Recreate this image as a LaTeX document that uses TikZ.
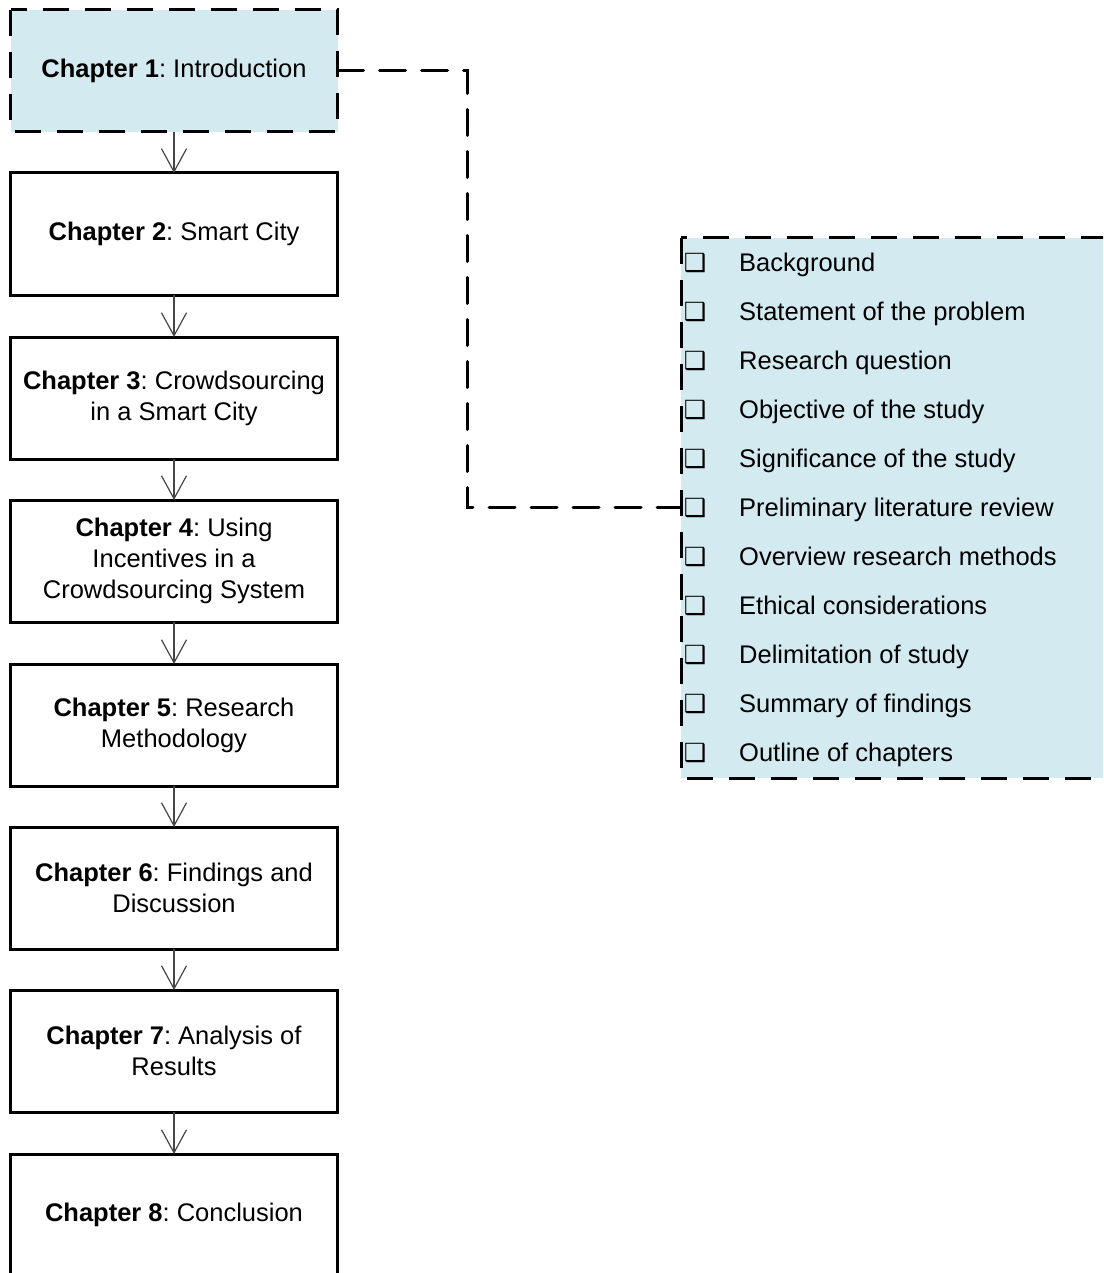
\documentclass[tikz,border=0pt]{standalone}
\usepackage{fontspec}
\setmainfont{Liberation Sans}
\newfontfamily\symfont{DejaVu Sans}
\usetikzlibrary{arrows.meta}
\definecolor{panelblue}{RGB}{210,234,240}
\definecolor{flowgray}{RGB}{70,70,70}
\tikzset{
  chapbox/.style={draw=black, line width=3pt, minimum width=327pt, minimum height=122pt,
    outer sep=0pt, inner sep=2pt, align=center, font=\fontsize{25.5}{31}\selectfont\frenchspacing},
  dashpat/.style={line width=3pt, dash pattern=on 26pt off 16pt},
  firstbox/.style={chapbox, fill=panelblue, draw=none},
  flow/.style={draw=flowgray, line width=1.4pt,
    -{Straight Barb[length=23pt, width=25pt, line width=1.2pt]}},
  listbox/.style={fill=panelblue, minimum width=429pt, minimum height=540pt, outer sep=0pt, inner sep=0pt},
  item/.style={anchor=base west, inner sep=0pt, font=\fontsize{25.5}{31}\selectfont},
  tick/.style={anchor=base, inner sep=0pt, font=\symfont\fontsize{25}{25}\selectfont},
  link/.style={draw=black, dashpat, line cap=round}
}
\begin{document}
\begin{tikzpicture}[x=1pt, y=-1pt]
\useasboundingbox (0,0) rectangle (1103,1273);
\clip (0,0) rectangle (1103,1273);

% chapter column
\node[firstbox] (c1) at (174,71) {\textbf{Chapter 1}: Introduction};
\draw[dashpat] (c1.north west) rectangle (c1.south east);
\node[chapbox] (c2) at (174,234) {\textbf{Chapter 2}: Smart City};
\node[chapbox] (c3) at (174,398) {\textbf{Chapter 3}: Crowdsourcing\\in a Smart City};
\node[chapbox] (c4) at (174,561) {\textbf{Chapter 4}: Using\\Incentives in a\\Crowdsourcing System};
\node[chapbox] (c5) at (174,725) {\textbf{Chapter 5}: Research\\Methodology};
\node[chapbox] (c6) at (174,888) {\textbf{Chapter 6}: Findings and\\Discussion};
\node[chapbox] (c7) at (174,1051) {\textbf{Chapter 7}: Analysis of\\Results};
\node[chapbox] (c8) at (174,1215) {\textbf{Chapter 8}: Conclusion};

\foreach \a/\b in {c1/c2,c2/c3,c3/c4,c4/c5,c5/c6,c6/c7,c7/c8}
  \draw[flow] (\a.south) -- (\b.north);

% outline panel
\node[listbox] (topics) at (895.5,508) {};
\draw[dashpat] (topics.north west) rectangle (topics.south east);

\foreach \t [count=\i] in {Background, Statement of the problem, Research question,
    Objective of the study, Significance of the study, Preliminary literature review,
    Overview research methods, Ethical considerations, Delimitation of study,
    Summary of findings, Outline of chapters} {
  \node[tick] (b\i) at (695, {271 + 49*(\i-1)}) {❑};
  \node[item] (i\i) at (739, {271 + 49*(\i-1)}) {\t};
}

% link from chapter 1 to its outline
\coordinate (bend) at (467,71);
\draw[link] (c1.east) -- (bend) |- (topics.west |- b6.center);
\end{tikzpicture}
\end{document}
